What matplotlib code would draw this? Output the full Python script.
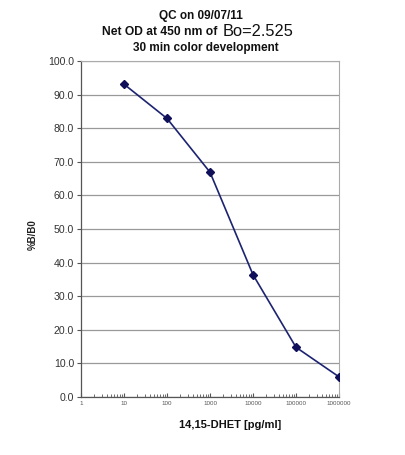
import matplotlib
matplotlib.use("Agg")
import matplotlib.pyplot as plt
from matplotlib.ticker import LogLocator, NullFormatter

conc = [10, 100, 1000, 10000, 100000, 1000000]
pct_b_b0 = [93.1, 82.9, 66.9, 36.4, 14.8, 6.0]
x_ticks = [1, 10, 100, 1000, 10000, 100000, 1000000]
x_tick_labels = ["1", "10", "100", "1000", "10000", "100000", "1000000"]
y_ticks = [0, 10, 20, 30, 40, 50, 60, 70, 80, 90, 100]

plt.rcParams['font.family'] = ['Liberation Sans', 'DejaVu Sans']

fig = plt.figure(figsize=(4.06, 4.55), dpi=100)
W, H = 406, 455
ax = fig.add_axes([81 / W, 1 - 397 / H, (339 - 81) / W, (397 - 61) / H])

ax.plot(conc, pct_b_b0, color="#1c2370", lw=1.2, marker="D", ms=4,
        mfc="#10105a", mec="#10105a", zorder=3)
ax.set_xscale("log")
ax.set_xlim(1, 1000000)
ax.set_ylim(0, 100)
ax.set_xticks(x_ticks)
ax.set_xticklabels(x_tick_labels, fontsize=4.5, color="#555555")
ax.xaxis.set_minor_locator(LogLocator(base=10, subs=range(2, 10)))
ax.xaxis.set_minor_formatter(NullFormatter())
ax.set_yticks(y_ticks)
ax.set_yticklabels([f"{v:.1f}" for v in y_ticks], fontsize=7.6, color="#333333")
ax.yaxis.grid(True, color="#999999", lw=0.9)
ax.set_axisbelow(True)
for s in ["top", "right"]:
    ax.spines[s].set_color("#aaaaaa")
    ax.spines[s].set_linewidth(0.8)
for s in ["left", "bottom"]:
    ax.spines[s].set_color("#555555")
    ax.spines[s].set_linewidth(0.9)
ax.tick_params(axis="y", direction="out", length=3, color="#555555", pad=2)
ax.tick_params(axis="x", which="major", direction="in", length=3, color="#555555", pad=3)
ax.tick_params(axis="x", which="minor", direction="in", length=2, color="#555555")

fig.text(33 / W, 1 - 235 / H, "%B/B0", rotation=90, ha="center", va="center",
         fontsize=7, fontweight="bold", color="#222222")
fig.text(230 / W, 1 - 425 / H, "14,15-DHET [pg/ml]", ha="center", va="center",
         fontsize=8, fontweight="bold", color="#111111")

fig.text(201 / W, 1 - 16 / H, "QC on 09/07/11", ha="center", va="center",
         fontsize=8.5, fontweight="bold", color="#111111")
fig.text(221 / W, 1 - 32 / H, "Net OD at 450 nm of ", ha="right", va="center",
         fontsize=8.7, fontweight="bold", color="#111111")
fig.text(223 / W, 1 - 31 / H, "Bo=2.525", ha="left", va="center",
         fontsize=11.8, color="#111111")
fig.text(206 / W, 1 - 48 / H, "30 min color development", ha="center", va="center",
         fontsize=8.5, fontweight="bold", color="#111111")

fig.savefig("out.png", dpi=100)
